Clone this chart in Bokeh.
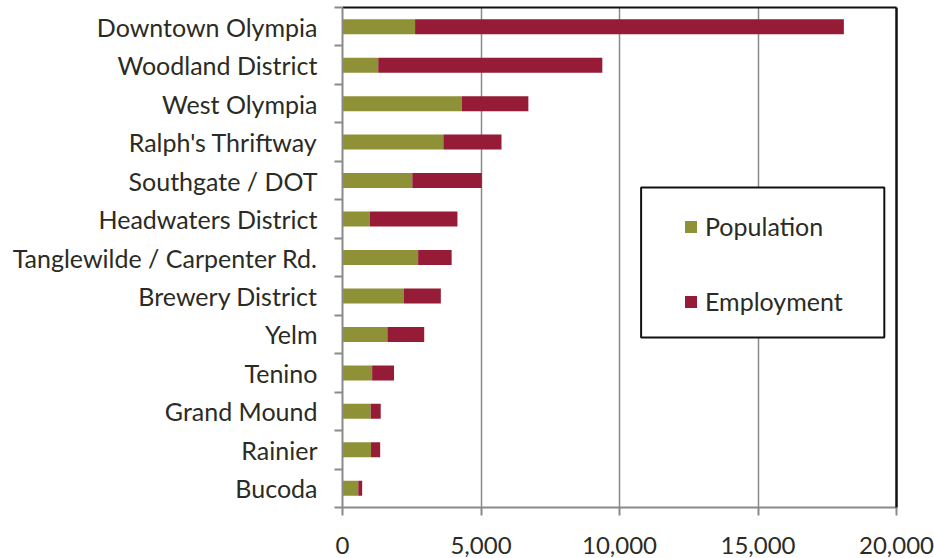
from bokeh.plotting import figure
from bokeh.models import (ColumnDataSource, Range1d, FixedTicker, NumeralTickFormatter,
                          BoxAnnotation, Legend, LegendItem, LinearAxis)
from bokeh.embed import file_html
from bokeh.resources import INLINE

# ---- data (top to bottom as in the chart) ----
categories = ["Downtown Olympia", "Woodland District", "West Olympia", "Ralph's Thriftway",
              "Southgate / DOT", "Headwaters District", "Tanglewilde / Carpenter Rd.",
              "Brewery District", "Yelm", "Tenino", "Grand Mound", "Rainier", "Bucoda"]
population = [2620, 1290, 4310, 3640, 2520, 990, 2730, 2220, 1620, 1070, 1020, 1030, 570]
totals = [18100, 9380, 6710, 5740, 5030, 4150, 3940, 3550, 2950, 1860, 1380, 1360, 710]
employment = [t - p for t, p in zip(totals, population)]
x_ticks = [0, 5000, 10000, 15000, 20000]
series_names = ["Population", "Employment"]
series_colors = ["#8f9137", "#951b37"]

n = len(categories)
ypos = [n - 1 - i for i in range(n)]
source = ColumnDataSource(dict(y=ypos, cat=categories, Population=population,
                               Employment=employment))

FONT = "Lato"
TXT = "#2b2b25"
GRAY = "#8a8a8a"

p = figure(width=934, height=558, output_backend="svg", toolbar_location=None,
           x_range=Range1d(0, 20000), y_range=Range1d(-0.5, n - 0.5),
           min_border_left=342, min_border_right=38, min_border_top=7, min_border_bottom=51)
p.outline_line_color = None
p.background_fill_color = "white"

rs = p.hbar_stack(series_names, y="y", height=0.39, color=series_colors, source=source,
                  line_color=None)

# x axis
xa = p.xaxis[0]
xa.ticker = FixedTicker(ticks=x_ticks)
xa.formatter = NumeralTickFormatter(format="0,0")
xa.major_tick_out = 8
xa.major_tick_in = 0
xa.minor_tick_out = 0
xa.minor_tick_in = 0
xa.axis_line_color = GRAY
xa.axis_line_width = 2
xa.major_tick_line_color = GRAY
xa.major_tick_line_width = 2
xa.major_label_text_font = FONT
xa.major_label_text_font_size = "24px"
xa.major_label_text_color = TXT
xa.major_label_standoff = 21

# y axis
ya = p.yaxis[0]
ya.ticker = FixedTicker(ticks=ypos, minor_ticks=[k - 0.5 for k in range(n + 1)])
ya.major_label_overrides = {y: c for y, c in zip(ypos, categories)}
ya.major_tick_out = 0
ya.major_tick_in = 0
ya.minor_tick_out = 8
ya.minor_tick_in = 0
ya.minor_tick_line_color = GRAY
ya.minor_tick_line_width = 2
ya.axis_line_color = GRAY
ya.axis_line_width = 2
ya.major_label_text_font = FONT
ya.major_label_text_font_size = "25px"
ya.major_label_text_color = TXT
ya.major_label_standoff = 17

# grid (0 and 20,000 coincide with the frame lines)
p.xgrid.ticker = FixedTicker(ticks=x_ticks[1:-1])
p.xgrid.grid_line_color = GRAY
p.xgrid.grid_line_width = 1.5
p.ygrid.grid_line_color = None

# top and right frame lines as bare axes
for side, width in (("above", 2), ("right", 2.5)):
    ax = LinearAxis(ticker=FixedTicker(ticks=[]), axis_line_color="#111111",
                    axis_line_width=width, major_tick_out=0, major_tick_in=0,
                    minor_tick_out=0, minor_tick_in=0, major_label_standoff=0)
    p.add_layout(ax, side)

# legend box
p.add_layout(BoxAnnotation(left=10780, right=19560, top=7.82, bottom=3.92,
                           fill_color="white", fill_alpha=1.0,
                           line_color="#111111", line_alpha=1.0, line_width=2))

legend = Legend(items=[LegendItem(label=nm, renderers=[r]) for nm, r in zip(series_names, rs)],
                location=(341, 191), padding=0, spacing=45, label_height=30,
                glyph_height=15, glyph_width=15, label_standoff=7,
                border_line_color=None, background_fill_alpha=0,
                label_text_font=FONT, label_text_font_size="25px", label_text_color=TXT)
p.add_layout(legend)

open("out.html", "w").write(file_html(p, INLINE))
